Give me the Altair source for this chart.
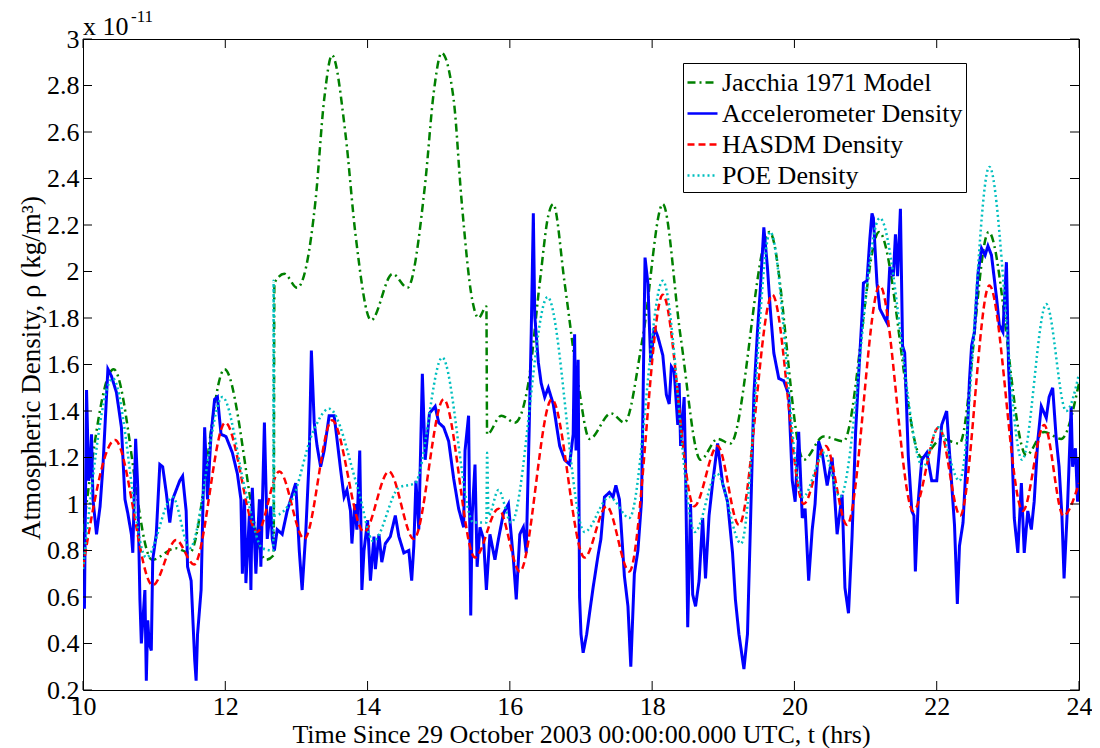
import altair as alt
import pandas as pd

SERIES = ["Jacchia 1971 Model", "Accelerometer Density", "HASDM Density", "POE Density"]
COLORS = ["#008000", "#0000FF", "#FF0000", "#00BFBF"]
DASHES = [[8, 4, 2, 4], [1, 0], [7, 4], [2, 3]]

X_TICKS = [10, 12, 14, 16, 18, 20, 22, 24]
Y_TICKS = [0.2, 0.4, 0.6, 0.8, 1.0, 1.2, 1.4, 1.6, 1.8, 2.0, 2.2, 2.4, 2.6, 2.8, 3.0]

jacchia_t = [10.0, 10.43, 10.97, 11.3, 11.5, 11.99, 12.57, 12.68, 12.69, 12.83, 13.01,
             13.27, 13.39, 13.5, 13.69, 13.83, 14.05, 14.35, 14.56, 14.81, 14.93, 15.04,
             15.21, 15.32, 15.47, 15.56, 15.67, 15.68, 15.88, 16.07, 16.26, 16.42, 16.54,
             16.61, 16.77, 16.96, 17.12, 17.42, 17.61, 17.87, 18.15, 18.4, 18.68, 18.92,
             19.1, 19.65, 20.13, 20.41, 20.69, 21.19, 21.79, 22.07, 22.32, 22.73, 23.26,
             23.51, 23.75, 24.0]
jacchia_v = [0.88, 1.58, 0.76, 0.81, 0.79, 1.58, 0.76, 0.78, 1.95, 1.99, 1.93,
             2.31, 2.74, 2.93, 2.59, 2.16, 1.79, 1.99, 1.93, 2.38, 2.77, 2.94,
             2.74, 2.31, 1.88, 1.80, 1.85, 1.30, 1.38, 1.35, 1.52, 1.95, 2.24,
             2.29, 1.95, 1.52, 1.28, 1.39, 1.35, 1.72, 2.29, 1.72, 1.19, 1.28,
             1.26, 2.17, 1.19, 1.29, 1.27, 2.17, 1.20, 1.28, 1.26, 2.17, 1.21,
             1.31, 1.28, 1.52]

hasdm_t = [10.0, 10.45, 10.98, 11.31, 11.56, 12.0, 12.45, 12.76, 13.11, 13.5, 13.95,
           14.3, 14.65, 15.07, 15.51, 15.84, 16.14, 16.59, 17.05, 17.36, 17.68, 18.15,
           18.59, 18.92, 19.22, 19.69, 20.13, 20.44, 20.74, 21.2, 21.67, 22.03, 22.33,
           22.74, 23.21, 23.51, 23.78, 24.0]
hasdm_v = [0.73, 1.275, 0.65, 0.845, 0.74, 1.35, 0.88, 1.14, 0.85, 1.36, 0.88,
           1.14, 0.85, 1.45, 0.77, 0.98, 0.71, 1.45, 0.77, 0.99, 0.71, 1.90,
           0.99, 1.25, 0.91, 1.90, 1.00, 1.25, 0.91, 1.94, 0.97, 1.33, 0.95,
           1.94, 0.97, 1.34, 0.95, 1.09]

poe_t = [10.0, 10.42, 10.89, 11.26, 11.5, 11.96, 12.29, 12.52, 12.66, 12.675, 12.68,
         12.685, 12.94, 13.22, 13.46, 13.87, 14.08, 14.44, 14.67, 15.05, 15.49, 15.67,
         15.68, 15.7, 15.84, 16.02, 16.53, 17.05, 17.4, 17.68, 18.15, 18.6, 18.91,
         19.25, 19.66, 20.12, 20.42, 20.64, 21.2, 21.81, 22.02, 22.32, 22.74, 23.2,
         23.54, 23.82, 24.0]
poe_v = [0.72, 1.54, 0.77, 1.03, 0.81, 1.46, 1.05, 0.81, 0.80, 0.80, 1.96,
         0.95, 1.02, 1.30, 1.41, 1.06, 0.84, 1.07, 1.09, 1.63, 0.92, 0.92,
         1.22, 0.95, 1.06, 0.92, 1.89, 0.88, 1.03, 0.94, 1.96, 0.88, 1.13,
         0.83, 2.17, 1.03, 1.22, 1.03, 2.23, 1.16, 1.33, 1.10, 2.45, 1.19,
         1.86, 1.40, 1.56]

accel_t = [10.00, 10.02, 10.05, 10.08, 10.10, 10.12, 10.14, 10.19, 10.24, 10.28, 10.35,
           10.40, 10.47, 10.54, 10.59, 10.63, 10.68, 10.70, 10.74, 10.77, 10.80, 10.82,
           10.87, 10.89, 10.91, 10.93, 10.96, 10.98, 11.03, 11.08, 11.12, 11.17, 11.22,
           11.26, 11.31, 11.36, 11.40, 11.45, 11.47, 11.52, 11.57, 11.59, 11.61, 11.66,
           11.71, 11.75, 11.80, 11.85, 11.89, 11.94, 12.01, 12.10, 12.17, 12.22, 12.24,
           12.27, 12.29, 12.34, 12.36, 12.38, 12.43, 12.48, 12.50, 12.55, 12.59, 12.64,
           12.66, 12.69, 12.73, 12.80, 12.87, 12.92, 12.99, 13.04, 13.08, 13.13, 13.18,
           13.21, 13.25, 13.29, 13.34, 13.39, 13.46, 13.53, 13.57, 13.62, 13.67, 13.71,
           13.76, 13.78, 13.82, 13.85, 13.89, 13.92, 13.95, 14.00, 14.04, 14.09, 14.11,
           14.16, 14.20, 14.25, 14.32, 14.39, 14.44, 14.51, 14.58, 14.62, 14.65, 14.68,
           14.72, 14.77, 14.81, 14.87, 14.95, 15.00, 15.07, 15.14, 15.21, 15.28, 15.35,
           15.37, 15.42, 15.45, 15.47, 15.51, 15.54, 15.58, 15.63, 15.67, 15.72, 15.79,
           15.84, 15.91, 15.98, 16.05, 16.09, 16.14, 16.19, 16.23, 16.27, 16.30, 16.33,
           16.35, 16.40, 16.44, 16.49, 16.54, 16.61, 16.65, 16.70, 16.77, 16.84, 16.89,
           16.91, 16.93, 16.96, 16.98, 17.00, 17.03, 17.08, 17.12, 17.17, 17.24, 17.28,
           17.33, 17.40, 17.45, 17.49, 17.54, 17.61, 17.66, 17.70, 17.75, 17.80, 17.85,
           17.87, 17.90, 17.94, 17.98, 18.03, 18.08, 18.15, 18.20, 18.24, 18.27, 18.31,
           18.36, 18.38, 18.40, 18.45, 18.47, 18.50, 18.54, 18.57, 18.61, 18.66, 18.71,
           18.75, 18.80, 18.85, 18.92, 18.99, 19.06, 19.13, 19.17, 19.22, 19.29, 19.34,
           19.38, 19.43, 19.48, 19.52, 19.57, 19.62, 19.66, 19.71, 19.78, 19.85, 19.92,
           19.97, 20.01, 20.06, 20.11, 20.15, 20.20, 20.25, 20.29, 20.34, 20.39, 20.46,
           20.53, 20.60, 20.67, 20.71, 20.76, 20.81, 20.86, 20.90, 20.95, 20.97, 21.02,
           21.06, 21.09, 21.11, 21.16, 21.20, 21.25, 21.30, 21.34, 21.39, 21.42, 21.45,
           21.49, 21.52, 21.55, 21.60, 21.65, 21.68, 21.70, 21.74, 21.79, 21.86, 21.93,
           22.00, 22.07, 22.14, 22.18, 22.25, 22.29, 22.32, 22.37, 22.42, 22.46, 22.49,
           22.53, 22.58, 22.63, 22.68, 22.72, 22.77, 22.84, 22.88, 22.93, 22.98, 23.01,
           23.05, 23.09, 23.14, 23.19, 23.23, 23.28, 23.33, 23.37, 23.42, 23.47, 23.54,
           23.58, 23.63, 23.68, 23.72, 23.76, 23.79, 23.84, 23.89, 23.91, 23.95, 23.98,
           24.00]
accel_v = [0.60, 0.55, 1.49, 1.10, 1.16, 1.30, 1.02, 0.87, 0.99, 1.16, 1.58,
           1.55, 1.48, 1.33, 1.02, 0.96, 0.87, 0.79, 1.28, 1.07, 0.59, 0.40,
           0.63, 0.24, 0.50, 0.40, 0.37, 0.76, 0.87, 1.17, 1.16, 1.05, 0.92,
           1.02, 1.06, 1.10, 1.12, 0.97, 0.73, 0.67, 0.33, 0.24, 0.44, 0.63,
           1.33, 1.02, 1.30, 1.45, 1.46, 1.30, 1.29, 1.22, 1.13, 1.02, 0.70,
           1.02, 0.66, 0.96, 0.63, 1.07, 0.70, 1.02, 0.73, 1.35, 0.85, 0.99,
           0.85, 0.80, 0.89, 0.87, 0.97, 1.02, 1.09, 0.80, 0.63, 0.87, 1.20,
           1.66, 1.35, 1.25, 1.16, 1.23, 1.38, 1.38, 1.28, 1.15, 1.03, 1.06,
           0.97, 0.83, 1.00, 0.89, 1.23, 0.63, 0.80, 0.93, 0.67, 0.86, 0.72,
           0.87, 0.75, 0.83, 0.86, 0.95, 0.86, 0.79, 0.80, 0.67, 0.82, 1.10,
           0.89, 1.56, 1.19, 1.39, 1.42, 1.35, 1.33, 1.27, 1.11, 0.98, 0.90,
           1.23, 1.38, 0.52, 0.95, 1.17, 0.73, 0.90, 0.85, 0.63, 0.87, 0.76,
           0.85, 0.96, 1.00, 0.76, 0.59, 0.87, 0.90, 0.79, 1.30, 1.73, 2.25,
           1.81, 1.61, 1.52, 1.46, 1.50, 1.43, 1.35, 1.25, 1.19, 1.17, 1.30,
           1.73, 1.23, 1.62, 0.60, 0.44, 0.36, 0.44, 0.53, 0.64, 0.78, 0.85,
           1.03, 1.05, 1.03, 1.08, 1.02, 0.69, 0.56, 0.30, 0.70, 0.80, 1.01,
           1.40, 2.06, 1.95, 1.61, 1.76, 1.72, 1.64, 1.47, 1.43, 1.59, 1.57,
           1.34, 1.52, 1.25, 1.46, 1.15, 0.47, 1.00, 0.61, 0.56, 0.67, 0.94,
           0.68, 0.95, 1.09, 1.26, 1.09, 1.01, 0.79, 0.59, 0.44, 0.29, 0.44,
           0.89, 1.47, 1.74, 1.92, 2.19, 2.02, 1.84, 1.65, 1.54, 1.53, 1.47,
           1.10, 1.01, 1.31, 0.94, 0.98, 0.67, 0.89, 1.00, 1.27, 1.22, 1.08,
           1.20, 0.87, 1.04, 0.64, 0.53, 0.86, 1.31, 1.54, 1.81, 1.95, 1.96,
           2.14, 2.25, 2.23, 1.95, 1.84, 1.81, 1.78, 2.02, 1.98, 2.16, 1.98,
           2.27, 1.68, 1.65, 1.21, 0.97, 0.95, 0.71, 1.01, 1.19, 1.22, 1.10,
           1.10, 1.34, 1.40, 1.22, 0.91, 0.57, 0.82, 0.92, 1.21, 1.53, 1.68,
           1.74, 1.99, 2.10, 2.07, 2.11, 2.07, 1.89, 1.77, 1.74, 2.04, 1.59,
           1.31, 0.94, 0.79, 1.09, 0.79, 0.97, 0.89, 1.01, 1.27, 1.42, 1.37,
           1.46, 1.50, 1.28, 1.16, 0.95, 0.68, 1.00, 1.42, 1.16, 1.24, 1.01,
           1.20]


def frame(name, t, v):
    return pd.DataFrame({"t": t, "rho": v, "series": name})


FONT = "Liberation Serif"
W, H = 996, 651
TICK = 9

x_scale = alt.Scale(domain=[10, 24], nice=False, zero=False)
y_scale = alt.Scale(domain=[0.2, 3.0], nice=False, zero=False)

x_axis = alt.Axis(values=X_TICKS, format="d", tickSize=0, domain=False, grid=False,
                  labelFlush=False, labelOverlap=False,
                  labelFont=FONT, labelFontSize=26, labelColor="black", labelPadding=3,
                  titleFont=FONT, titleFontSize=26, titleFontWeight="normal", titleColor="black",
                  titleBaseline="alphabetic", titleY=52)
y_axis = alt.Axis(values=Y_TICKS, format="~g", tickSize=0, domain=False, grid=False,
                  labelFlush=False, labelOverlap=False,
                  labelFont=FONT, labelFontSize=26, labelColor="black", labelPadding=4,
                  titleFont=FONT, titleFontSize=27, titleFontWeight="normal", titleColor="black",
                  titleAngle=270, titleBaseline="middle", titleAlign="center",
                  titleX=-52, titleY=H / 2 + 3)

X_TITLE = "Time Since 29 October 2003 00:00:00.000 UTC, t (hrs)"
Y_TITLE = "Atmospheric Density, \u03c1 (kg/m\u00b3)"

legend = alt.Legend(title=None, orient="none", legendX=600, legendY=24,
                    strokeColor="black", fillColor="white", padding=3, rowPadding=1,
                    labelFont=FONT, labelFontSize=26, labelColor="black", labelLimit=400,
                    labelOffset=3, symbolType="stroke", symbolSize=900,
                    symbolStrokeWidth=2.5, cornerRadius=0)

color = alt.Color("series:N", scale=alt.Scale(domain=SERIES, range=COLORS), legend=legend)
dash = alt.StrokeDash("series:N", scale=alt.Scale(domain=SERIES, range=DASHES), legend=legend)
X = alt.X("t:Q", scale=x_scale, axis=x_axis, title=X_TITLE)
Y = alt.Y("rho:Q", scale=y_scale, axis=y_axis, title=Y_TITLE)


def line(df, width, interp):
    return alt.Chart(df).mark_line(strokeWidth=width, interpolate=interp, clip=True).encode(
        x=X, y=Y, color=color, strokeDash=dash)


layers = [
    line(frame(SERIES[0], jacchia_t, jacchia_v), 2.5, "monotone"),
    line(frame(SERIES[1], accel_t, accel_v), 3, "linear"),
    line(frame(SERIES[2], hasdm_t, hasdm_v), 2.5, "monotone"),
    line(frame(SERIES[3], poe_t, poe_v), 2.5, "monotone"),
]

xt = pd.DataFrame({"t": X_TICKS})
yt = pd.DataFrame({"rho": Y_TICKS})
tick_layers = [
    alt.Chart(xt).mark_rule(color="black", strokeWidth=1).encode(x=X, y=alt.value(H), y2=alt.value(H - TICK)),
    alt.Chart(xt).mark_rule(color="black", strokeWidth=1).encode(x=X, y=alt.value(0), y2=alt.value(TICK)),
    alt.Chart(yt).mark_rule(color="black", strokeWidth=1).encode(y=Y, x=alt.value(0), x2=alt.value(TICK)),
    alt.Chart(yt).mark_rule(color="black", strokeWidth=1).encode(y=Y, x=alt.value(W), x2=alt.value(W - TICK)),
]

exp_base = alt.Chart(pd.DataFrame({"s": ["x 10"]})).mark_text(
    font=FONT, fontSize=26, align="left", baseline="alphabetic", color="black"
).encode(text="s:N", x=alt.value(0), y=alt.value(-4))
exp_sup = alt.Chart(pd.DataFrame({"s": ["-11"]})).mark_text(
    font=FONT, fontSize=17, align="left", baseline="alphabetic", color="black"
).encode(text="s:N", x=alt.value(48), y=alt.value(-17))

chart = alt.layer(*layers, *tick_layers, exp_base, exp_sup).properties(
    width=W, height=H,
    autosize=alt.AutoSizeParams(type="none"),
    padding={"left": 75, "top": 31, "right": 13, "bottom": 58},
    background="white",
).configure_view(stroke="black", strokeWidth=1)

chart.save("out.html", embed_options={"renderer": "svg", "actions": False})
